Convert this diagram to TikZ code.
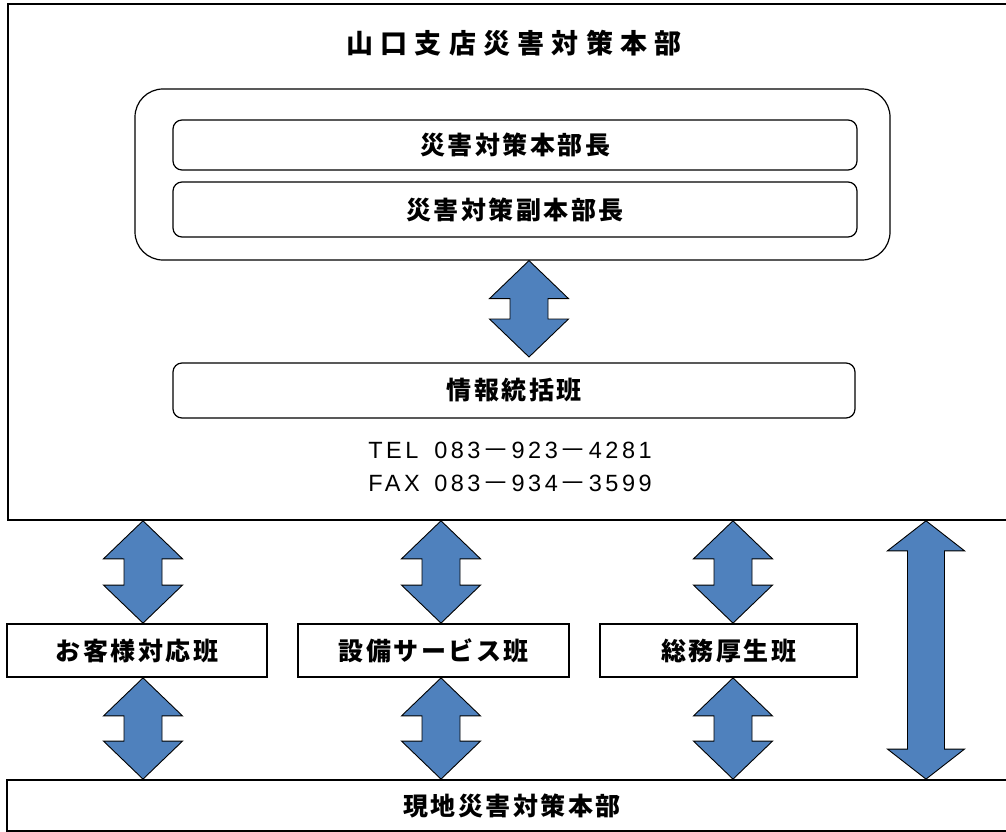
\documentclass[tikz,border=0pt]{standalone}
\usepackage{fontspec}
\setmainfont{Noto Sans CJK JP}
\newfontfamily\jpfont{Noto Sans CJK JP}
\newfontfamily\titlefont{Noto Sans CJK JP}[LetterSpace=27]
\newfontfamily\boxfont{Noto Sans CJK JP}[LetterSpace=10]
\newfontfamily\telfont{Liberation Sans}[LetterSpace=15]
\usetikzlibrary{calc}
\definecolor{arrowblue}{HTML}{4F81BD}

% double arrow: top tip, bottom tip, head length, head half width, shaft half width
\newcommand{\twoarrow}[5]{%
  \draw[link] let \p1=(#1), \p2=(#2) in
    (\p1) -- ++(#4,#3) -- ++({#5-#4},0) -- ({\x2+#5pt},{\y2+#3pt}) -- ++({#4-#5},0)
    -- (\p2) -- ++({-#4},{-#3}) -- ++({#4-#5},0) -- ({\x1-#5pt},{\y1-#3pt}) -- ++({#5-#4},0) -- cycle;}
\newcommand{\dash}{\hspace{2pt}\scalebox{1.15}[1]{\jpfont －}\hspace{2pt}}

\begin{document}
\begin{tikzpicture}
        [x=1pt, y=-1pt,
         frame/.style={draw, line width=1.6pt, inner sep=0pt},
         group/.style={draw, line width=1.2pt, rounded corners=28pt, inner sep=0pt},
         post/.style={draw, line width=1.2pt, rounded corners=9pt, inner sep=0pt,
                      font=\fontsize{25}{25}\boxfont\bfseries},
         team/.style={draw, line width=1.8pt, inner sep=0pt, minimum height=53pt,
                      font=\fontsize{25}{25}\boxfont\bfseries},
         phone/.style={font=\fontsize{23.5}{23.5}\telfont},
         link/.style={draw=black, line width=0.9pt, fill=arrowblue, line join=miter}]
        \useasboundingbox (0,0) rectangle (1006,832);
        % head office
        \node[frame, minimum width=1008pt, minimum height=516pt] (hq) at (512,262) {};
        \node[font=\fontsize{27}{27}\titlefont\bfseries] (title) at (514,43) {山口支店災害対策本部};
        \node[group, minimum width=755pt, minimum height=171pt] (group) at (512.5,174.5) {};
        \node[post, minimum width=684pt, minimum height=50pt] (chief) at (515,145) {災害対策本部長};
        \node[post, minimum width=684pt, minimum height=55pt] (vice) at (515,209.5) {災害対策副本部長};
        \node[post, minimum width=682pt, minimum height=55pt] (joho) at (514,390.5) {情報統括班};
        \node[phone] (tel) at (510,450) {\makebox[66pt][l]{TEL}083\dash 923\dash 4281};
        \node[phone] (fax) at (510,483.5) {\makebox[66pt][l]{FAX}083\dash 934\dash 3599};
        % teams
        \node[team, minimum width=260pt] (kyaku) at (137,650.5) {お客様対応班};
        \node[team, minimum width=271pt] (setsubi) at (433.5,650.5) {設備サービス班};
        \node[team, minimum width=257pt] (somu) at (728.5,650.5) {総務厚生班};
        \node[team, minimum width=1010pt, minimum height=51pt] (genchi) at (512,805.5) {現地災害対策本部};
        % arrows
        \coordinate (jtip) at (529,357);
        \twoarrow{529,0 |- group.south}{jtip}{38}{39.5}{19}
        \foreach \cx/\b in {143/kyaku,441/setsubi,733/somu}{
          \twoarrow{\cx,0 |- hq.south}{\cx,0 |- \b.north}{38}{39.5}{19}
          \twoarrow{\cx,0 |- \b.south}{\cx,0 |- genchi.north}{38}{39.5}{19}
        }
        \twoarrow{926,0 |- hq.south}{926,0 |- genchi.north}{30}{38.5}{18.5}
      \end{tikzpicture}
\end{document}
